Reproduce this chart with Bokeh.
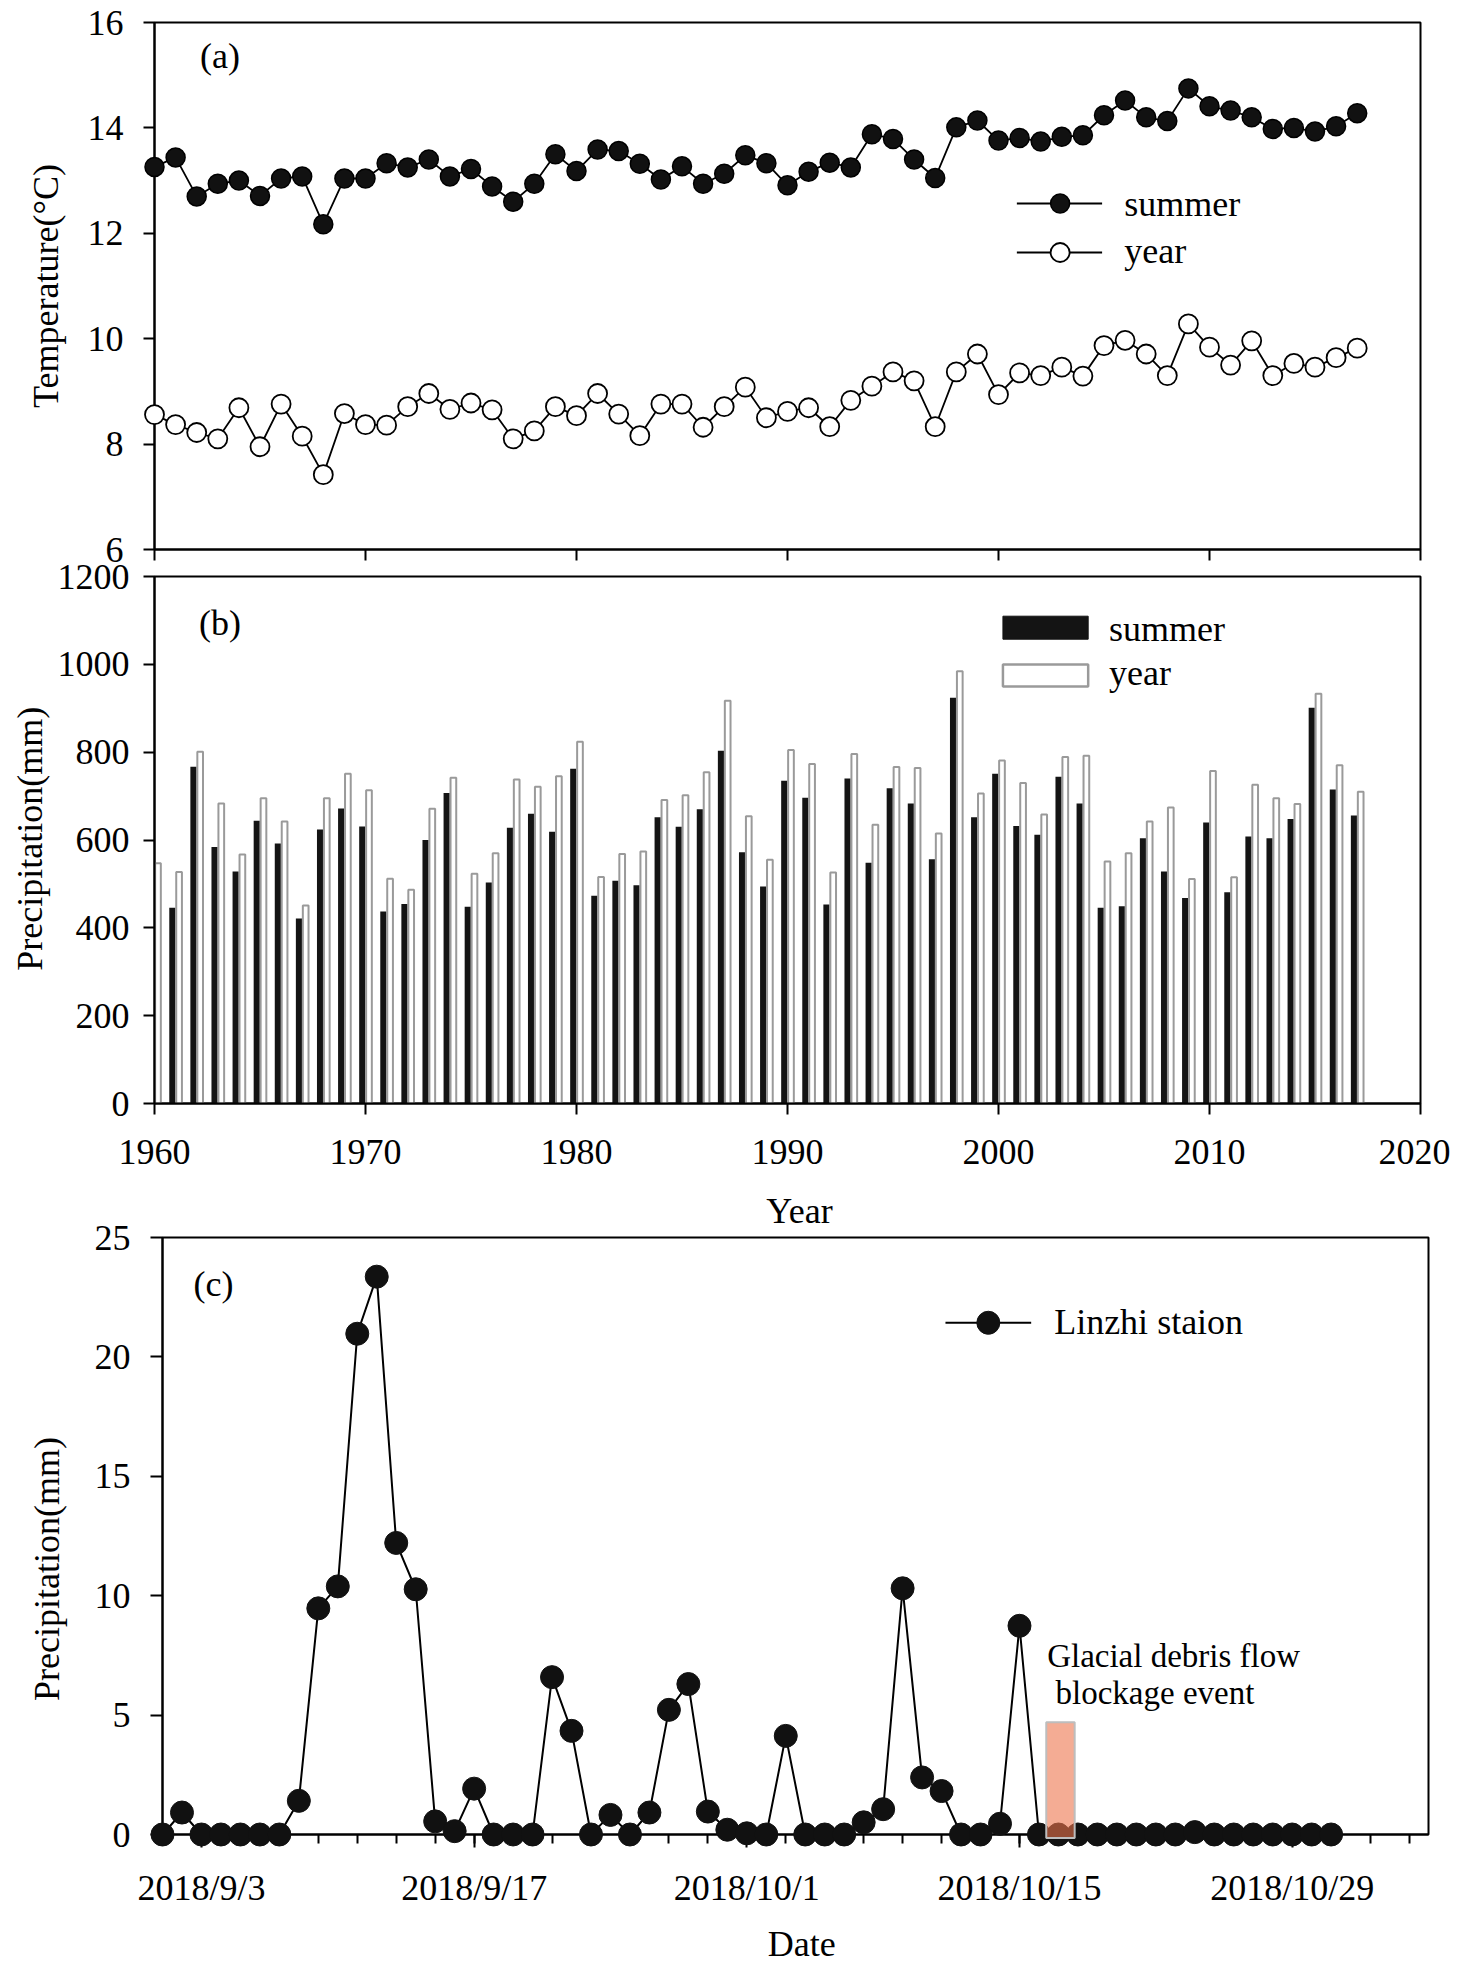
import numpy as np
import pandas as pd
from bokeh.plotting import figure
from bokeh.layouts import column
from bokeh.models import FixedTicker, Label, Range1d
from bokeh.core.properties import value
from bokeh.embed import file_html
from bokeh.resources import INLINE

FONT = "Liberation Serif"

# ---------------- data ----------------
years = list(range(1960, 2018))

temp_summer = [13.26, 13.44, 12.70, 12.94, 13.00, 12.71, 13.04, 13.08, 12.17, 13.04,
               13.04, 13.33, 13.25, 13.40, 13.08, 13.22, 12.89, 12.60, 12.94, 13.50,
               13.18, 13.59, 13.56, 13.32, 13.02, 13.27, 12.94, 13.13, 13.48, 13.33,
               12.91, 13.17, 13.34, 13.25, 13.88, 13.79, 13.40, 13.05, 14.01, 14.14,
               13.76, 13.81, 13.74, 13.83, 13.86, 14.24, 14.52, 14.20, 14.13, 14.75,
               14.41, 14.33, 14.20, 13.98, 14.00, 13.93, 14.03, 14.28]

temp_year = [8.56, 8.37, 8.22, 8.10, 8.69, 7.95, 8.76, 8.15, 7.42, 8.58,
             8.37, 8.36, 8.71, 8.96, 8.66, 8.78, 8.65, 8.10, 8.25, 8.71,
             8.54, 8.96, 8.57, 8.16, 8.76, 8.76, 8.32, 8.71, 9.08, 8.50,
             8.62, 8.69, 8.33, 8.83, 9.10, 9.37, 9.20, 8.33, 9.37, 9.71,
             8.94, 9.35, 9.30, 9.46, 9.29, 9.87, 9.97, 9.71, 9.30, 10.28,
             9.84, 9.50, 9.96, 9.30, 9.53, 9.46, 9.64, 9.82]

prec_summer = [None, 446, 767, 584, 528, 644, 592, 421, 624, 672,
               631, 437, 454, 600, 707, 448, 503, 628, 660, 619,
               762, 473, 507, 497, 652, 630, 670, 803, 572, 494,
               735, 696, 453, 740, 548, 718, 683, 556, 924, 652,
               751, 632, 612, 744, 683, 446, 449, 604, 528, 468,
               640, 481, 608, 604, 648, 901, 715, 656]

prec_year = [547, 527, 801, 683, 567, 695, 642, 451, 695, 751,
             713, 512, 487, 671, 742, 523, 570, 738, 721, 745,
             824, 516, 568, 574, 691, 702, 754, 917, 654, 555,
             805, 773, 526, 796, 635, 766, 764, 615, 984, 706,
             781, 730, 658, 789, 792, 551, 570, 642, 674, 511,
             757, 515, 726, 695, 682, 933, 770, 710]

dates = pd.date_range("2018-09-01", "2018-10-31", freq="D")
daily_prec = [0, 0.92, 0, 0, 0, 0, 0, 1.41, 9.47, 10.39,
              20.97, 23.36, 12.21, 10.27, 0.55, 0.14, 1.92, 0, 0, 0,
              6.59, 4.34, 0, 0.82, 0, 0.92, 5.22, 6.30, 0.96, 0.20,
              0.05, 0, 4.13, 0, 0, 0, 0.51, 1.06, 10.31, 2.39,
              1.82, 0, 0, 0.45, 8.74, 0, 0, 0, 0, 0,
              0, 0, 0, 0.10, 0, 0, 0, 0, 0, 0,
              0]
date_tick_labels = ["2018/9/3", "2018/9/17", "2018/10/1", "2018/10/15", "2018/10/29"]
date_axis_end = "2018-11-05"

event_start = "2018-10-16 09:00"
event_end = "2018-10-17 20:00"
event_top = 4.7

year_ticks = [1960, 1970, 1980, 1990, 2000, 2010, 2020]
temp_ticks = [6, 8, 10, 12, 14, 16]
prec_ticks = [0, 200, 400, 600, 800, 1000, 1200]
daily_ticks = [0, 5, 10, 15, 20, 25]

# ---------------- helpers ----------------
t0 = dates[0]
def day(d):
    return (pd.Timestamp(d) - t0) / pd.Timedelta(days=1)

day_x = [day(d) for d in dates]
major_days = [day(pd.to_datetime(s, format="%Y/%m/%d")) for s in date_tick_labels]
end_day = day(date_axis_end)


def style(p):
    p.grid.visible = False
    p.outline_line_color = "black"
    p.outline_line_width = 2
    p.background_fill_color = "white"
    for ax in p.axis:
        ax.axis_line_width = 2
        ax.axis_line_color = "black"
        ax.major_tick_line_width = 2
        ax.minor_tick_line_width = 2
        ax.major_tick_in = 0
        ax.minor_tick_in = 0
        ax.minor_tick_out = 0
        ax.major_label_text_font = FONT
        ax.major_label_text_font_size = "36px"
        ax.major_label_text_color = "black"
        ax.axis_label_text_font = FONT
        ax.axis_label_text_font_size = "36px"
        ax.axis_label_text_font_style = "normal"
        ax.axis_label_text_color = "black"


def label(p, x, y, text, size="36px", align="left"):
    p.add_layout(Label(x=x, y=y, text=text, text_font=FONT, text_font_size=size,
                       text_color="black", text_align=align, text_baseline="middle"))


def outer_text(p, x, y, text, angle=0.0):
    p.text(x=[x], y=[y], text=[text], angle=angle, text_font=value(FONT),
           text_font_size=value("36px"), text_color="black", text_align="center",
           text_baseline="middle", level="overlay")

# ---------------- (a) temperature ----------------
pa = figure(frame_width=1266, frame_height=527, x_range=Range1d(1960, 2020),
            y_range=Range1d(6, 16), min_border_left=154, min_border_right=30,
            min_border_top=22, min_border_bottom=21,
            output_backend="svg", toolbar_location=None)
style(pa)
pa.border_fill_color = "white"
pa.xaxis.ticker = FixedTicker(ticks=year_ticks)
pa.xaxis.major_label_overrides = {t: "" for t in year_ticks}
pa.xaxis.major_label_text_font_size = "0px"
pa.xaxis.major_label_standoff = 0
pa.xaxis.major_tick_out = 11
pa.yaxis.ticker = FixedTicker(ticks=temp_ticks)
pa.yaxis.major_tick_out = 11
pa.yaxis.major_label_standoff = 20
pa.yaxis.axis_label = "Temperature(°C)"
pa.yaxis.axis_label_standoff = 19

pa.line(years, temp_summer, line_color="black", line_width=1.8, level="overlay")
pa.scatter(years, temp_summer, marker="circle", size=19, fill_color="#111111",
           line_color="black", line_width=1.5, level="overlay")
pa.line(years, temp_year, line_color="black", line_width=1.8, level="overlay")
pa.scatter(years, temp_year, marker="circle", size=19, fill_color="white",
           line_color="black", line_width=1.8, level="overlay")

# legend (a)
pa.line([2000.87, 2004.91], [12.565, 12.565], line_color="black", line_width=1.8, level="overlay")
pa.scatter([2002.92], [12.565], marker="circle", size=19, fill_color="#111111",
           line_color="black", line_width=1.5, level="overlay")
pa.line([2000.87, 2004.91], [11.636, 11.636], line_color="black", line_width=1.8, level="overlay")
pa.scatter([2002.92], [11.636], marker="circle", size=19, fill_color="white",
           line_color="black", line_width=1.8, level="overlay")
label(pa, 2005.96, 12.55, "summer")
label(pa, 2005.96, 11.66, "year")
label(pa, 1962.16, 15.36, "(a)")

# ---------------- (b) precipitation ----------------
pb = figure(frame_width=1266, frame_height=527, x_range=Range1d(1960, 2020),
            y_range=Range1d(0, 1200), min_border_left=154, min_border_right=30,
            min_border_top=20, min_border_bottom=128, margin=(-14, 0, 0, 0),
            output_backend="svg", toolbar_location=None)
style(pb)
pb.border_fill_color = None
pb.xaxis.ticker = FixedTicker(ticks=year_ticks)
pb.xaxis.major_tick_out = 11
pb.xaxis.major_label_standoff = 25
pb.yaxis.ticker = FixedTicker(ticks=prec_ticks)
pb.yaxis.major_tick_out = 11
pb.yaxis.major_label_standoff = 14

yrs = np.array(years, dtype=float)
ps = np.array([np.nan if v is None else v for v in prec_summer], dtype=float)
pb.vbar(x=yrs - 0.155, top=ps, bottom=0, width=0.29, fill_color="#141414",
        line_color=None)
pb.vbar(x=yrs + 0.165, top=prec_year, bottom=0, width=0.27, fill_color="white",
        line_color="#9a9a9a", line_width=2)

# legend (b)
pb.quad(left=[2000.21], right=[2004.25], bottom=[1057.2], top=[1109.6],
        fill_color="#141414", line_color="#141414", line_width=1)
pb.quad(left=[2000.21], right=[2004.25], bottom=[949.4], top=[999.5],
        fill_color="white", line_color="#9a9a9a", line_width=2.5)
label(pb, 2005.24, 1081, "summer")
label(pb, 2005.24, 981, "year")
label(pb, 1962.11, 1094, "(b)")
outer_text(pb, 1954.1, 603, "Precipitation(mm)", angle=np.pi / 2)
outer_text(pb, 1990.57, -244.5, "Year")

# ---------------- (c) daily precipitation ----------------
pc = figure(frame_width=1266, frame_height=597, x_range=Range1d(0, end_day),
            y_range=Range1d(0, 25), min_border_left=154, min_border_right=22,
            min_border_top=20, min_border_bottom=131, margin=(-14, 0, 0, 8),
            output_backend="svg", toolbar_location=None)
style(pc)
pc.border_fill_color = None
pc.xaxis.ticker = FixedTicker(ticks=major_days, minor_ticks=list(np.arange(0, end_day, 2)))
pc.xaxis.major_label_overrides = {d: s for d, s in zip(major_days, date_tick_labels)}
pc.xaxis.major_tick_out = 13
pc.xaxis.minor_tick_out = 9
pc.xaxis.major_label_standoff = 20
pc.yaxis.ticker = FixedTicker(ticks=daily_ticks)
pc.yaxis.major_tick_out = 12
pc.yaxis.major_label_standoff = 20

pc.line(day_x, daily_prec, line_color="black", line_width=2, level="overlay")
pc.scatter(day_x, daily_prec, marker="circle", size=23, fill_color="#111111",
           line_color="#111111", line_width=1, level="overlay")

# event box
pc.quad(left=[day(event_start)], right=[day(event_end)], bottom=[-0.15], top=[event_top],
        fill_color="#ED754D", fill_alpha=0.6, line_color="#BDBDBD", line_width=2,
        level="overlay")

# legend (c)
pc.line([40.2, 44.6], [21.43, 21.43], line_color="black", line_width=2, level="overlay")
pc.scatter([42.4], [21.43], marker="circle", size=23, fill_color="#111111",
           line_color="#111111", line_width=1, level="overlay")
label(pc, 45.78, 21.45, "Linzhi staion")
label(pc, 45.42, 7.48, "Glacial debris flow", size="33px")
label(pc, 45.85, 5.92, "blockage event", size="33px")
label(pc, 1.59, 23.05, "(c)")
outer_text(pc, -5.94, 11.12, "Precipitation(mm)", angle=np.pi / 2)
outer_text(pc, 32.82, -4.58, "Date")

layout = column(pa, pb, pc)
open("out.html", "w").write(file_html(layout, INLINE))
